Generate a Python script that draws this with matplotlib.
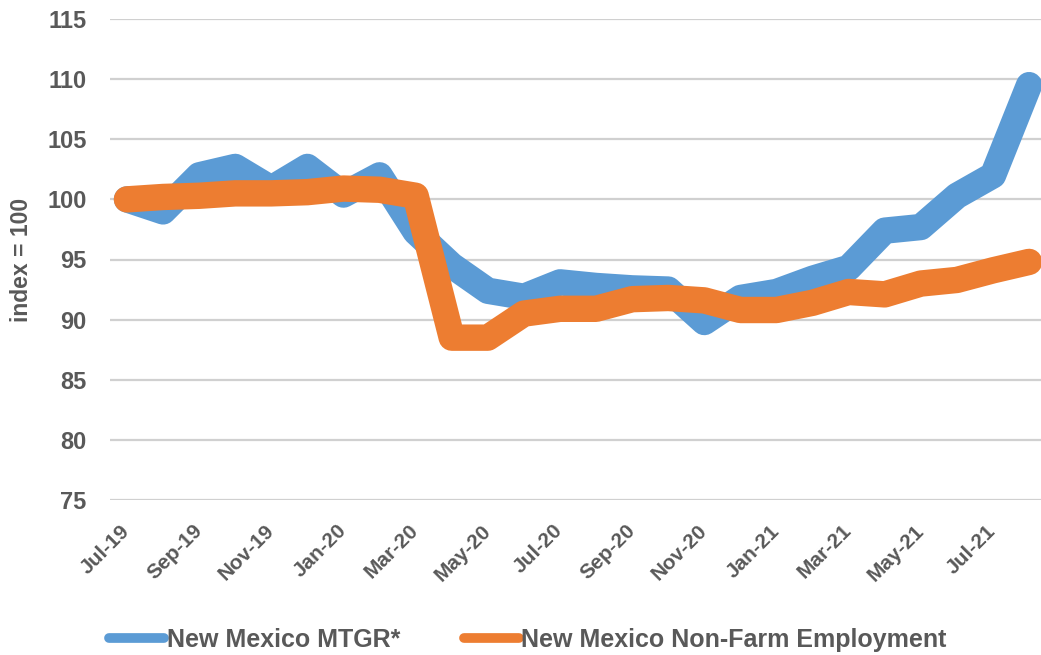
import matplotlib
matplotlib.use("Agg")
import matplotlib.pyplot as plt
from matplotlib.lines import Line2D

MONTHS = [
    "Jul-19", "Aug-19", "Sep-19", "Oct-19", "Nov-19", "Dec-19",
    "Jan-20", "Feb-20", "Mar-20", "Apr-20", "May-20", "Jun-20",
    "Jul-20", "Aug-20", "Sep-20", "Oct-20", "Nov-20", "Dec-20",
    "Jan-21", "Feb-21", "Mar-21", "Apr-21", "May-21", "Jun-21",
    "Jul-21", "Aug-21",
]
mtgr = [
    100.0, 99.0, 102.0, 102.7, 100.9, 102.7,
    100.4, 102.0, 97.3, 94.5, 92.4, 91.9,
    93.1, 92.8, 92.6, 92.5, 89.8, 91.8,
    92.3, 93.4, 94.3, 97.4, 97.7, 100.3,
    102.0, 109.5,
]
employment = [
    100.0, 100.2, 100.3, 100.5, 100.5, 100.6,
    100.9, 100.8, 100.3, 88.5, 88.5, 90.5,
    90.9, 90.9, 91.7, 91.8, 91.6, 90.8,
    90.8, 91.4, 92.3, 92.1, 93.0, 93.3,
    94.1, 94.8,
]
SERIES_NAMES = ["New Mexico MTGR*", "New Mexico Non-Farm Employment"]
Y_TICKS = [75, 80, 85, 90, 95, 100, 105, 110, 115]

BLUE = "#5B9BD5"
ORANGE = "#ED7D31"
GREY = "#595959"
FONT = "Liberation Sans"

fig = plt.figure(figsize=(10.41, 6.55), dpi=100)
ax = fig.add_axes([110 / 1041, 1 - 500 / 655, 931 / 1041, 481 / 655])

x = list(range(len(MONTHS)))
for vals, col in [(mtgr, BLUE), (employment, ORANGE)]:
    ax.plot(x, vals, color=col, lw=19, solid_capstyle="round",
            solid_joinstyle="round", clip_on=False, zorder=3)

ax.set_ylim(75, 115)
ax.set_xlim(-0.47, 25.33)
ax.set_yticks(Y_TICKS)
ax.set_yticklabels([str(v) for v in Y_TICKS], fontfamily=FONT,
                   fontweight="bold", fontsize=17, color=GREY)
ax.set_xticks(x[::2])
ax.set_xticklabels(MONTHS[::2], rotation=45, ha="right", va="center",
                   rotation_mode="anchor", fontfamily=FONT,
                   fontweight="bold", fontsize=15, color=GREY)
ax.tick_params(axis="y", length=0, pad=17)
ax.tick_params(axis="x", length=0, pad=20)
ax.grid(axis="y", color="#d0d0d0", lw=1.6)
ax.set_axisbelow(True)
for s in ax.spines.values():
    s.set_visible(False)

fig.text(22 / 1041, 1 - 260 / 655, "index = 100", rotation=90, ha="center",
         va="center", fontfamily=FONT, fontweight="bold", fontsize=16.5,
         color=GREY)

handles = [Line2D([], [], color=BLUE, lw=7, solid_capstyle="round"),
           Line2D([], [], color=ORANGE, lw=7, solid_capstyle="round")]
leg = fig.legend(handles, SERIES_NAMES, loc="center",
                 bbox_to_anchor=(0.507, 1 - 640 / 655), ncol=2, frameon=False,
                 handlelength=2.2, handletextpad=0.1, columnspacing=2.55,
                 prop={"family": FONT, "weight": "bold", "size": 18})
for t in leg.get_texts():
    t.set_color(GREY)

fig.savefig("out.png", dpi=100)
